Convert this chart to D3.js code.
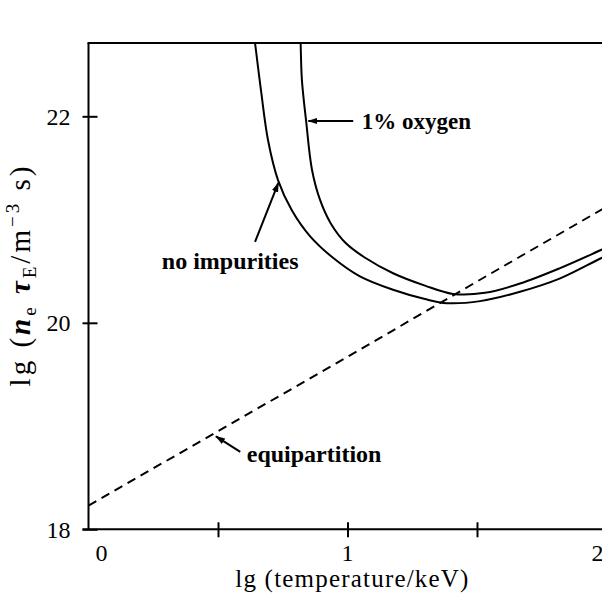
<!DOCTYPE html>
<html>
<head>
<meta charset="utf-8">
<script src="https://cdn.jsdelivr.net/npm/d3@7"></script>
<style>
  body { margin: 0; background: #fff; }
  text { font-family: "Liberation Serif", "DejaVu Serif", serif; fill: #000; }
</style>
</head>
<body>
<div id="Area"></div>
<script>
// values
var xTickValues = [0.5, 1, 1.5];
var xTickLabels = [0, 1, 2];
var yTickValues = [18, 20, 22];

// no impurities curve
var tempPure  = [0.629, 0.643, 0.666, 0.693, 0.732, 0.785, 0.855, 0.944, 1.048, 1.176, 1.299, 1.384, 1.512, 1.666, 1.821, 1.983, 2.08];
var neTauPure = [23.0, 22.71, 22.25, 21.77, 21.38, 21.09, 20.84, 20.63, 20.45, 20.32, 20.23, 20.19, 20.21, 20.30, 20.43, 20.63, 20.74];

// 1% oxygen curve
var tempOxy  = [0.816, 0.819, 0.824, 0.840, 0.863, 0.894, 0.936, 0.994, 1.068, 1.176, 1.299, 1.407, 1.531, 1.666, 1.821, 1.983, 2.08];
var neTauOxy = [23.0, 22.71, 22.35, 21.96, 21.48, 21.19, 20.96, 20.77, 20.63, 20.48, 20.36, 20.28, 20.29, 20.38, 20.53, 20.71, 20.82];

// equipartition line
var tempEquip  = [0, 0.5, 1, 1.5, 2.08];
var neTauEquip = [18.23, 18.95, 19.67, 20.40, 21.24];

var margin = {top: 43, left: 88.5},
    width = 2.08 * 259,
    height = 486.3;

var svg = d3.select("#Area")
    .append("svg")
    .attr("width", 602)
    .attr("height", 600)
    .append("g")
    .attr("transform", "translate(" + margin.left + "," + margin.top + ")");

var xscl = d3.scaleLinear().domain([0, 2.08]).range([0, width]);
var yscl = d3.scaleLinear().domain([18, 22.71]).range([height, 0]);

svg.append("defs").append("clipPath").attr("id", "clip")
  .append("rect").attr("width", width).attr("height", height);

svg.append("defs").append("marker")
    .attr("id", "head")
    .attr("markerUnits", "userSpaceOnUse")
    .attr("viewBox", "0 -4 10 8")
    .attr("refX", 9).attr("refY", 0)
    .attr("markerWidth", 10).attr("markerHeight", 8)
    .attr("orient", "auto")
  .append("path").attr("d", "M0,-3.2L10,0L0,3.2Z").attr("fill", "#000");

// y axis
var yAxis = svg.append("g")
    .call(d3.axisLeft(yscl).tickValues(yTickValues).tickFormat(d3.format("d")).tickSize(6).tickPadding(12));
yAxis.select(".domain").remove();
yAxis.selectAll("line").attr("x1", 9).attr("x2", -6).attr("stroke-width", 2);
yAxis.selectAll("text").attr("font-size", 24).attr("dy", "0.34em")
    .style("font-family", "Liberation Serif");

// x axis
var xAxis = svg.append("g")
    .attr("transform", "translate(0," + height + ")")
    .call(d3.axisBottom(xscl).tickValues(xTickValues).tickSize(8).tickFormat(""));
xAxis.select(".domain").remove();
xAxis.selectAll("line").attr("y1", -7).attr("y2", 8).attr("stroke-width", 2);

var labelShift = {0: 13, 1: 0, 2: -9};
svg.selectAll(".xlab")
    .data(xTickLabels)
  .enter().append("text")
    .attr("class", "xlab")
    .attr("x", function(d) { return xscl(d) + labelShift[d]; })
    .attr("y", height + 32)
    .attr("text-anchor", "middle")
    .attr("font-size", 24)
    .text(function(d) { return d; });

// frame
svg.append("line").attr("x1", 0).attr("x2", 0).attr("y1", 0).attr("y2", height)
    .attr("stroke", "#000").attr("stroke-width", 2);
svg.append("line").attr("x1", -6).attr("x2", width).attr("y1", height).attr("y2", height)
    .attr("stroke", "#000").attr("stroke-width", 2);
svg.append("line").attr("x1", -1).attr("x2", width).attr("y1", 0).attr("y2", 0)
    .attr("stroke", "#000").attr("stroke-width", 2);

// curves
function toXY(xs, ys) {
  var xy = [];
  for (var i = 0; i < xs.length; i++) xy.push({x: xs[i], y: ys[i]});
  return xy;
}

var smooth = d3.line()
    .x(function(d) { return xscl(d.x); })
    .y(function(d) { return yscl(d.y); })
    .curve(d3.curveCatmullRom.alpha(0.5));

var plot = svg.append("g").attr("clip-path", "url(#clip)");

plot.append("path")
    .attr("d", smooth(toXY(tempPure, neTauPure)))
    .style("fill", "none").style("stroke", "#000").style("stroke-width", 2);

plot.append("path")
    .attr("d", smooth(toXY(tempOxy, neTauOxy)))
    .style("fill", "none").style("stroke", "#000").style("stroke-width", 2);

plot.append("path")
    .attr("d", d3.line().x(function(d) { return xscl(d.x); }).y(function(d) { return yscl(d.y); })(toXY(tempEquip, neTauEquip)))
    .style("fill", "none").style("stroke", "#000").style("stroke-width", 2)
    .style("stroke-dasharray", "9,6");

// annotations (data units)
var notes = [
  {text: "1% oxygen",     size: 23, tx: 1.055, ty: 21.88,  x1: 1.022, y1: 21.955, x2: 0.849, y2: 21.955},
  {text: "no impurities", size: 24, tx: 0.283, ty: 20.52,  x1: 0.643, y1: 20.784, x2: 0.733, y2: 21.355},
  {text: "equipartition", size: 24, tx: 0.611, ty: 18.654, x1: 0.586, y1: 18.75,  x2: 0.492, y2: 18.90}
];

notes.forEach(function(n) {
  svg.append("line")
      .attr("x1", xscl(n.x1)).attr("y1", yscl(n.y1))
      .attr("x2", xscl(n.x2)).attr("y2", yscl(n.y2))
      .attr("stroke", "#000").attr("stroke-width", 2)
      .attr("marker-end", "url(#head)");
  svg.append("text")
      .attr("x", xscl(n.tx)).attr("y", yscl(n.ty))
      .attr("font-size", n.size).attr("font-weight", "bold")
      .text(n.text);
});

// axis titles
svg.append("text")
    .attr("x", 264).attr("y", height + 58)
    .attr("text-anchor", "middle")
    .attr("font-size", 25)
    .attr("letter-spacing", 1.2)
    .text("lg (temperature/keV)");

var yt = svg.append("text")
    .attr("transform", "translate(-59," + 232 + ") rotate(-90)")
    .attr("text-anchor", "middle")
    .attr("font-size", 29)
    .attr("letter-spacing", 3);
yt.append("tspan").text("lg (");
yt.append("tspan").attr("font-style", "italic").attr("font-weight", "bold").text("n");
yt.append("tspan").attr("font-size", 19).attr("dy", 6).text("e");
yt.append("tspan").attr("dy", -6).text(" ");
yt.append("tspan").attr("font-style", "italic").attr("font-weight", "bold").text("τ");
yt.append("tspan").attr("font-size", 19).attr("dy", 6).text("E");
yt.append("tspan").attr("dy", -6).text("/m");
yt.append("tspan").attr("font-size", 19).attr("dy", -11).text("−3");
yt.append("tspan").attr("dy", 11).text(" s)");
</script>
</body>
</html>
